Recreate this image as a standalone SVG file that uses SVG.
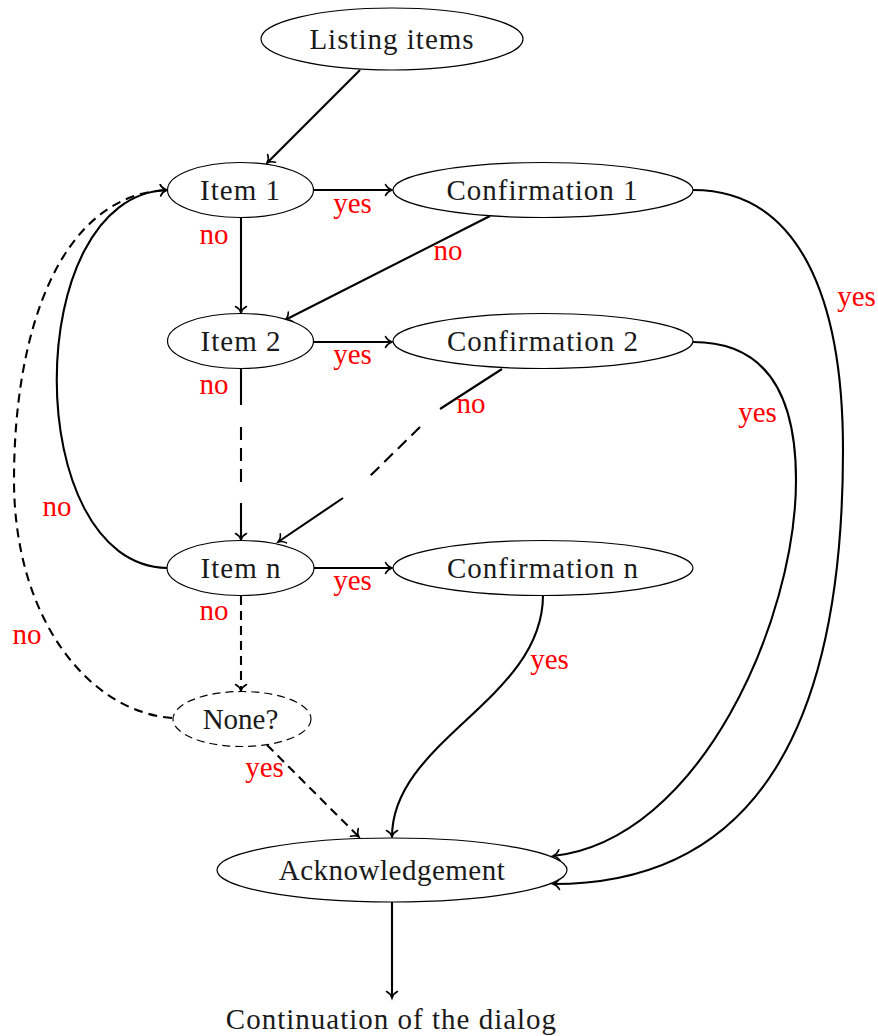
<svg xmlns="http://www.w3.org/2000/svg" width="878" height="1036" viewBox="0 0 878 1036">
<style>
  .node { fill: #ffffff; stroke: #000000; stroke-width: 1.2; }
  .dnode { fill: #ffffff; stroke: #000000; stroke-width: 1.2; stroke-dasharray: 8 5; }
  .lbl { font-family: "Liberation Serif", "Times New Roman", serif; font-size: 29px; letter-spacing: 1px; fill: #1a1a1a; text-anchor: middle; }
  .edgelabel { font-family: "Liberation Serif", "Times New Roman", serif; font-size: 29px; fill: #ff0000; text-anchor: middle; }
  .edge { fill: none; stroke: #000000; stroke-width: 2.1; }
  .dash { stroke-dasharray: 9 6; }
  .arr { marker-end: url(#arrow); }
</style>
<defs>
  <marker id="arrow" markerUnits="userSpaceOnUse" viewBox="-8 -7 9 14" refX="0" refY="0" markerWidth="9" markerHeight="14" orient="auto" overflow="visible">
    <path d="M-6.5,-5.5 C-5,-2.4 -2,-0.6 0,0 C-2,0.6 -5,2.4 -6.5,5.5" fill="none" stroke="#000000" stroke-width="1.6" stroke-linecap="round"/>
  </marker>
</defs>

<g id="connectors">
  <path class="edge arr" d="M360,70 L267,163"/>
  <path class="edge arr" d="M313,190 L392,190"/>
  <path class="edge arr" d="M241,218 L241,313"/>
  <path class="edge arr" d="M490,216 L285,320"/>
  <path class="edge arr" d="M313,342 L392,342"/>
  <path class="edge" d="M241,369 L241,405"/>
  <path class="edge" stroke-dasharray="13 8" d="M241,427 L241,483"/>
  <path class="edge arr" d="M241,503 L241,540"/>
  <path class="edge" d="M502,369 L440,409"/>
  <path class="edge" stroke-dasharray="12 7" d="M420,427 L368,478"/>
  <path class="edge arr" d="M343,498 L278,542"/>
  <path class="edge arr" d="M314,568 L392,568"/>
  <path class="edge dash arr" d="M241,596 L241,691"/>
  <path class="edge arr" d="M167,568 C20,565 20,195 167,190"/>
  <path class="edge dash arr" d="M172,718 C90,712 14,620 14,480 C14,330 60,195 167,190"/>
  <path class="edge arr" d="M693,190 C800,190 843,300 843,450 C843,720 760,884 553,884"/>
  <path class="edge arr" d="M693,342 C770,342 796,400 796,480 C796,620 700,840 553,856"/>
  <path class="edge arr" d="M543,595 C543,700 392,740 392,837"/>
  <path class="edge dash arr" d="M267,745 L359,837"/>
  <path class="edge arr" d="M392,902 L392,998"/>
</g>

<g id="edge-labels" font-family="Liberation Serif, serif">
  <text class="edgelabel" x="352.5" y="213">yes</text>
  <text class="edgelabel" x="214" y="244">no</text>
  <text class="edgelabel" x="448" y="260">no</text>
  <text class="edgelabel" x="352.5" y="364">yes</text>
  <text class="edgelabel" x="214" y="394">no</text>
  <text class="edgelabel" x="471" y="413">no</text>
  <text class="edgelabel" x="856.5" y="306">yes</text>
  <text class="edgelabel" x="757.5" y="422">yes</text>
  <text class="edgelabel" x="57" y="516">no</text>
  <text class="edgelabel" x="352.5" y="590">yes</text>
  <text class="edgelabel" x="214" y="620">no</text>
  <text class="edgelabel" x="27" y="644">no</text>
  <text class="edgelabel" x="549.5" y="669">yes</text>
  <text class="edgelabel" x="264.5" y="777">yes</text>
</g>

<g id="listing-items">
  <ellipse class="node" cx="392" cy="39" rx="131" ry="31"/>
  <text class="lbl" x="392" y="49">Listing items</text>
</g>
<g id="item-1">
  <ellipse class="node" cx="240.5" cy="190" rx="73" ry="27.5"/>
  <text class="lbl" x="240.5" y="200">Item 1</text>
</g>
<g id="confirmation-1">
  <ellipse class="node" cx="543" cy="190" rx="150" ry="27.5"/>
  <text class="lbl" x="542.5" y="200">Confirmation 1</text>
</g>
<g id="item-2">
  <ellipse class="node" cx="240.5" cy="341" rx="73" ry="27.5"/>
  <text class="lbl" x="241" y="351">Item 2</text>
</g>
<g id="confirmation-2">
  <ellipse class="node" cx="543" cy="341" rx="150" ry="27.5"/>
  <text class="lbl" x="543" y="351">Confirmation 2</text>
</g>
<g id="item-n">
  <ellipse class="node" cx="240.5" cy="568" rx="73.5" ry="27.5"/>
  <text class="lbl" x="241" y="578">Item n</text>
</g>
<g id="confirmation-n">
  <ellipse class="node" cx="543" cy="568" rx="150" ry="27.5"/>
  <text class="lbl" x="543" y="578">Confirmation n</text>
</g>
<g id="none">
  <ellipse class="dnode" cx="242" cy="719" rx="69" ry="27.5"/>
  <text class="lbl" x="240.5" y="729" style="letter-spacing:0">None?</text>
</g>
<g id="acknowledgement">
  <ellipse class="node" cx="392" cy="870" rx="175" ry="32"/>
  <text class="lbl" x="392" y="880" style="letter-spacing:0.5px">Acknowledgement</text>
</g>
<g id="continuation">
  <text class="lbl" x="391.5" y="1029">Continuation of the dialog</text>
</g>
</svg>
